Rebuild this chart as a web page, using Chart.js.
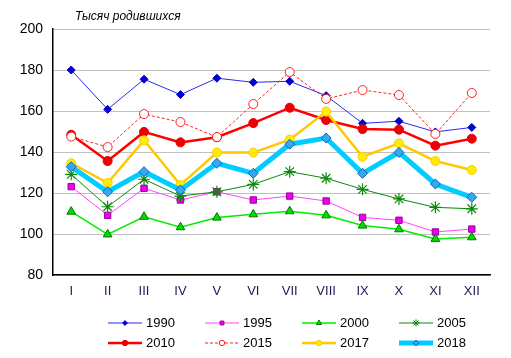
<!DOCTYPE html>
<html>
<head>
<meta charset="utf-8">
<script src="https://cdn.jsdelivr.net/npm/chart.js@4/dist/chart.umd.min.js"></script>
<style>
  html, body { margin: 0; padding: 0; background: #fff; }
  #wrap { width: 511px; height: 358px; }
</style>
</head>
<body>
<div id="wrap"><canvas id="births"></canvas></div>
<script>
/* ----------------------------- */
/* DATA                          */
/* ----------------------------- */
const months = ["I", "II", "III", "IV", "V", "VI", "VII", "VIII", "IX", "X", "XI", "XII"];
const chartTitle = "Тысяч родившихся";
const yTicks = { min: 80, max: 200, step: 20 };

const births1990 = [180, 160.8, 175.5, 168, 176, 174, 174.5, 167.5, 154, 155, 149.8, 152];
const births1995 = [123.1, 109.1, 122.3, 116.6, 120.6, 116.6, 118.5, 116.1, 108.1, 106.7, 101, 102.4];
const births2000 = [110.9, 99.8, 108.4, 103.3, 108, 109.6, 111.1, 109.1, 104.1, 102.3, 97.6, 98.4];
const births2005 = [129.1, 113.3, 126.7, 118.5, 120.6, 124.2, 130.4, 127.2, 121.8, 117.1, 113, 112.3];
const births2010 = [148.4, 135.6, 149.8, 144.7, 147.2, 154.1, 161.6, 155.6, 151.2, 150.9, 143.1, 146.5];
const births2015 = [147.5, 142.4, 158.5, 154.6, 147.3, 163.4, 179, 165.9, 170.2, 167.8, 148.8, 168.8];
const births2017 = [134.5, 124.9, 145.7, 123.9, 139.8, 139.7, 146, 159.7, 137.7, 144.2, 135.6, 131.2];
const births2018 = [132.8, 120.6, 130.4, 121.5, 134.5, 129.6, 143.8, 146.8, 129.6, 139.8, 124.4, 117.9];

/* ----------------------------- */
/* DATASETS                      */
/* ----------------------------- */
const series = [
  { label: "1990", data: births1990, color: "#2a2aee", fill: "#0000cc", edge: "#0000cc", width: 1, point: "rectRot", r: 4 },
  { label: "1995", data: births1995, color: "#ff44ff", fill: "#ee00ee", edge: "#990099", width: 1, point: "rect", r: 4.5 },
  { label: "2000", data: births2000, color: "#00ee00", fill: "#00dd00", edge: "#007700", width: 1.5, point: "triangle", r: 5 },
  { label: "2005", data: births2005, color: "#0a8a0a", fill: "#0a8a0a", edge: "#0a8a0a", width: 1, point: "star", r: 6 },
  { label: "2010", data: births2010, color: "#ff0000", fill: "#ee0000", edge: "#dd0000", width: 2.5, point: "circle", r: 4.5 },
  { label: "2015", data: births2015, color: "#ff2020", fill: "#ffffff", edge: "#ff2020", width: 1, point: "circle", r: 4.5, dash: [3, 2] },
  { label: "2017", data: births2017, color: "#ffc800", fill: "#ffee00", edge: "#ffc800", width: 2.5, point: "circle", r: 4.5 },
  { label: "2018", data: births2018, color: "#00ccff", fill: "#33aaee", edge: "#1060c0", width: 5, point: "rectRot", r: 5 },
];

const datasets = series.map((s, i) => ({
  label: s.label,
  data: s.data,
  borderColor: s.color,
  borderWidth: s.width,
  borderDash: s.dash || [],
  pointStyle: s.point,
  pointRadius: s.r,
  pointBackgroundColor: s.fill,
  pointBorderColor: s.edge,
  pointBorderWidth: s.point === "star" ? 1.2 : 1,
  tension: 0,
  order: series.length - i,
}));

/* ----------------------------- */
/* PLUGIN: title + legend        */
/* ----------------------------- */
const legendAndTitle = {
  id: "legendAndTitle",
  afterDraw(chart) {
    const ctx = chart.ctx;
    ctx.save();
    ctx.fillStyle = "#000";
    ctx.font = "italic 12px 'Liberation Sans', Arial, sans-serif";
    ctx.textBaseline = "middle";
    ctx.textAlign = "left";
    ctx.fillText(chartTitle, chart.chartArea.left + 22, 17);

    ctx.font = "13px 'Liberation Sans', Arial, sans-serif";
    series.forEach((s, i) => {
      const col = i % 4;
      const row = Math.floor(i / 4);
      const x0 = 108 + col * 97;
      const y = 323 + row * 20;
      ctx.strokeStyle = s.color;
      ctx.lineWidth = s.width;
      ctx.setLineDash(s.dash || []);
      ctx.beginPath();
      ctx.moveTo(x0, y);
      ctx.lineTo(x0 + 34, y);
      ctx.stroke();
      ctx.setLineDash([]);
      ctx.fillStyle = s.fill;
      ctx.strokeStyle = s.edge;
      ctx.lineWidth = 1;
      Chart.helpers.drawPoint(ctx, { pointStyle: s.point, radius: s.r * 0.6, borderWidth: 1 }, x0 + 17, y);
      ctx.fillStyle = "#000";
      ctx.fillText(s.label, x0 + 38, y);
    });
    ctx.restore();
  },
};

/* ----------------------------- */
/* CHART                         */
/* ----------------------------- */
new Chart(document.getElementById("births"), {
  type: "line",
  data: { labels: months, datasets },
  options: {
    responsive: true,
    maintainAspectRatio: false,
    animation: false,
    layout: { padding: { left: 0, right: 21, top: 29, bottom: 0 } },
    plugins: {
      legend: { display: false },
      title: { display: false },
      tooltip: { enabled: false },
    },
    scales: {
      x: {
        offset: true,
        grid: { display: false, drawTicks: false },
        border: { color: "#000", width: 1.5 },
        ticks: {
          color: "#1a1a55",
          font: { family: "'Liberation Sans', Arial, sans-serif", size: 13 },
          padding: 9,
          maxRotation: 0,
          autoSkip: false,
        },
        afterFit(scale) { scale.height = 83; },
      },
      y: {
        min: yTicks.min,
        max: yTicks.max,
        grid: { color: "#c0c0c0", drawTicks: false, lineWidth: 1 },
        border: { color: "#000", width: 1.5 },
        ticks: {
          stepSize: yTicks.step,
          color: "#000",
          font: { family: "'Liberation Sans', Arial, sans-serif", size: 14 },
          padding: 10,
        },
        afterFit(scale) { scale.width = 53; },
      },
    },
  },
  plugins: [legendAndTitle],
});
</script>
</body>
</html>
